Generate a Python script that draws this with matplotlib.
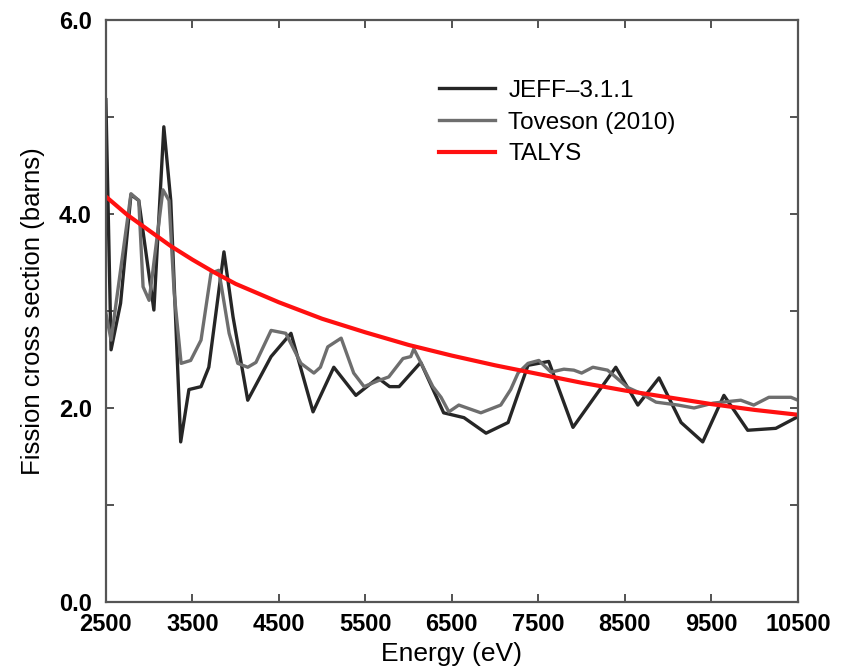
import numpy as np
import matplotlib
matplotlib.use('Agg')
import matplotlib.pyplot as plt

plt.rcParams['font.family'] = ['Liberation Sans', 'DejaVu Sans']

# JEFF-3.1.1 evaluation
jeff_e = [2500, 2560, 2670, 2790, 2880, 3055, 3170, 3250, 3365, 3460, 3600, 3690,
          3865, 3970, 4140, 4410, 4640, 4895, 5135, 5390, 5645, 5780, 5890, 6140,
          6405, 6640, 6895, 7150, 7380, 7620, 7900, 8395, 8650, 8895, 9150, 9400,
          9645, 9920, 10245, 10500]
jeff_v = [5.18, 2.60, 3.08, 4.20, 4.14, 3.01, 4.90, 4.14, 1.65, 2.19, 2.22, 2.42,
          3.61, 2.94, 2.08, 2.53, 2.77, 1.96, 2.42, 2.13, 2.31, 2.22, 2.22, 2.47,
          1.95, 1.90, 1.74, 1.85, 2.44, 2.48, 1.80, 2.42, 2.03, 2.31, 1.85, 1.65,
          2.13, 1.77, 1.79, 1.91]

# Toveson (2010) measurement
tov_e = [2500, 2560, 2790, 2880, 2930, 3000, 3040, 3160, 3230, 3290, 3370, 3480,
         3600, 3715, 3805, 3925, 4025, 4140, 4235, 4410, 4580, 4755, 4905, 4980,
         5065, 5220, 5365, 5485, 5645, 5770, 5935, 6025, 6060, 6140, 6280, 6375,
         6465, 6580, 6835, 7065, 7180, 7265, 7380, 7505, 7645, 7795, 7910, 8000,
         8130, 8300, 8535, 8685, 8860, 9115, 9300, 9520, 9840, 9990, 10165, 10420,
         10500]
tov_v = [2.98, 2.70, 4.21, 4.14, 3.25, 3.11, 3.39, 4.25, 4.14, 3.18, 2.46, 2.49,
         2.70, 3.39, 3.42, 2.77, 2.46, 2.42, 2.47, 2.80, 2.77, 2.46, 2.36, 2.42,
         2.63, 2.72, 2.36, 2.22, 2.28, 2.32, 2.51, 2.53, 2.61, 2.47, 2.22, 2.11,
         1.96, 2.03, 1.95, 2.03, 2.19, 2.36, 2.46, 2.49, 2.37, 2.40, 2.39, 2.36,
         2.42, 2.39, 2.21, 2.15, 2.06, 2.03, 2.00, 2.05, 2.08, 2.03, 2.11, 2.11,
         2.08]

# TALYS calculation
talys_e = [2500, 2750, 3000, 3250, 3500, 3750, 4000, 4500, 5000, 5500, 6000,
           6500, 7000, 7500, 8000, 8500, 9000, 9500, 10000, 10500]
talys_v = [4.18, 3.99, 3.83, 3.67, 3.53, 3.40, 3.28, 3.09, 2.92, 2.78, 2.65,
           2.54, 2.44, 2.35, 2.26, 2.18, 2.11, 2.04, 1.98, 1.93]

x_ticks = [2500, 3500, 4500, 5500, 6500, 7500, 8500, 9500, 10500]
y_ticks = [0, 1, 2, 3, 4, 5, 6]
y_labels = ['0.0', '', '2.0', '', '4.0', '', '6.0']

fig = plt.figure(figsize=(8.47, 6.71), dpi=100)
ax = fig.add_axes([0.125, 0.103, 0.817, 0.867])

ax.plot(jeff_e, jeff_v, color='#262626', lw=2.4, label='JEFF\u20133.1.1')
ax.plot(tov_e, tov_v, color='#6e6e6e', lw=2.4, label='Toveson (2010)')
ax.plot(talys_e, talys_v, color='#ff1010', lw=3.0, label='TALYS')

ax.set_xlim(2500, 10500)
ax.set_ylim(0, 6)
ax.set_xticks(x_ticks)
ax.set_yticks(y_ticks)
ax.set_yticklabels(y_labels)
ax.tick_params(direction='in', length=6, width=1.3, color='#444444',
               top=True, right=True, labelsize=17)
ax.tick_params(axis='x', pad=8)
ax.tick_params(axis='y', pad=10)
for lab in ax.get_xticklabels() + ax.get_yticklabels():
    lab.set_fontweight('bold')
for s in ax.spines.values():
    s.set_color('#555555')
    s.set_linewidth(1.6)

ax.set_xlabel('Energy (eV)', fontsize=19, labelpad=4)
ax.set_ylabel('Fission cross section (barns)', fontsize=18.5, labelpad=10)

ax.legend(loc='upper left', bbox_to_anchor=(0.45, 0.935), frameon=False,
          fontsize=17.5, handlelength=2.3, handletextpad=0.55, labelspacing=0.4)

fig.savefig('out.png', dpi=100)
